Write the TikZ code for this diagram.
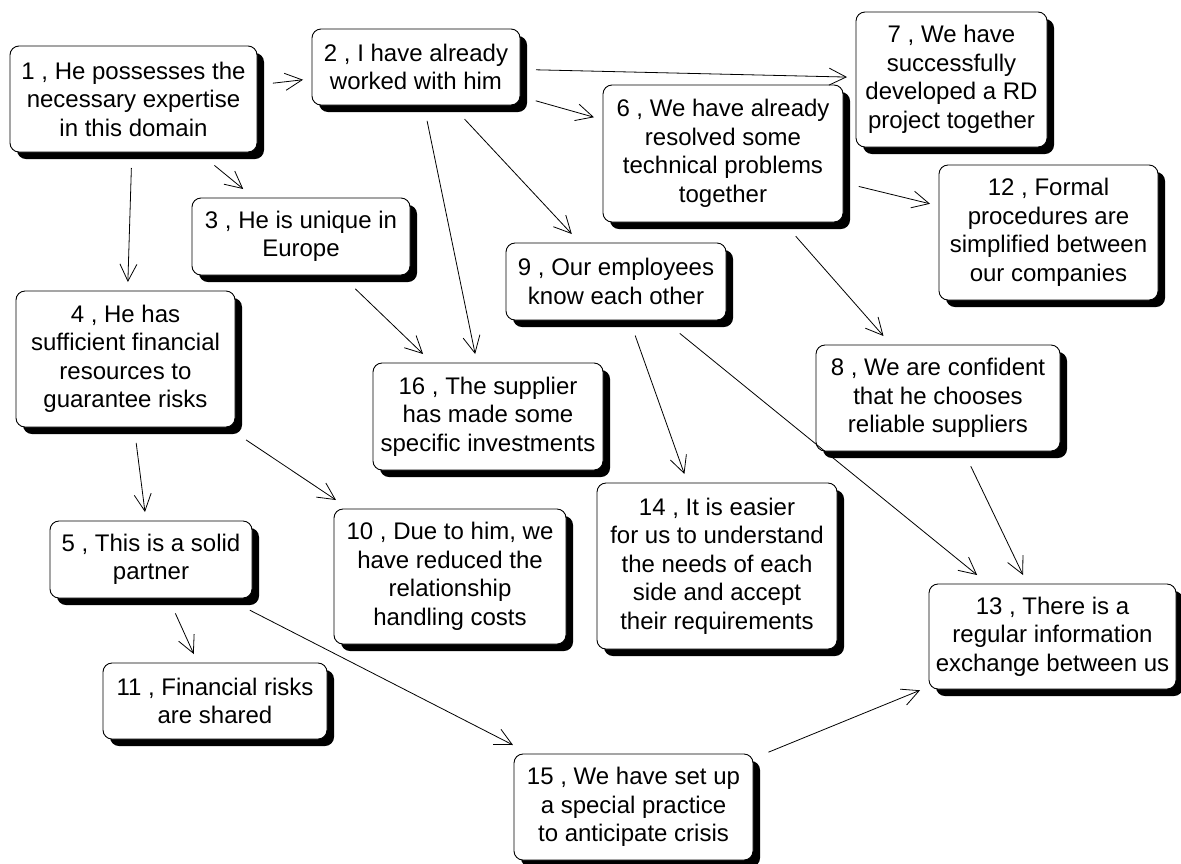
\documentclass[tikz,border=0pt]{standalone}
\usepackage{fontspec}
\setmainfont{Liberation Sans}
\usetikzlibrary{arrows.meta,shadows}
\begin{document}
\begin{tikzpicture}[x=1pt,y=-1pt,
  box/.style={draw=black, line width=0.9pt, fill=white, rounded corners=9pt,
    align=center, inner sep=2pt, outer sep=9pt,
    font=\fontsize{24}{28.5}\selectfont,
    drop shadow={shadow xshift=7pt, shadow yshift=-7pt, fill=black, opacity=1}},
  arr/.style={draw=black, line width=0.8pt, shorten <=7pt,
    -{Straight Barb[length=17pt,width=17pt,line width=0.8pt]}}]
\fill[white] (0,0) rectangle (1181,863);
\useasboundingbox (0,0) rectangle (1181,863);

\node[box, minimum width=247pt, minimum height=106pt] (n1) at (133.5,99) {1 , He possesses the\\necessary expertise\\in this domain};
\node[box, minimum width=208pt, minimum height=76pt] (n2) at (416,67) {2 , I have already\\worked with him};
\node[box, minimum width=218pt, minimum height=77pt] (n3) at (301,236.5) {3 , He is unique in\\Europe};
\node[box, minimum width=219pt, minimum height=136pt] (n4) at (125.5,359) {4 , He has\\sufficient financial\\resources to\\guarantee risks};
\node[box, minimum width=202pt, minimum height=77pt] (n5) at (151,559.5) {5 , This is a solid\\partner};
\node[box, minimum width=240pt, minimum height=137pt] (n6) at (723,153.5) {6 , We have already\\resolved some\\technical problems\\together};
\node[box, minimum width=191pt, minimum height=135pt] (n7) at (951.5,79.5) {7 , We have\\successfully\\developed a RD\\project together};
\node[box, minimum width=244pt, minimum height=106pt] (n8) at (938,398) {8 , We are confident\\that he chooses\\reliable suppliers};
\node[box, minimum width=220pt, minimum height=77pt] (n9) at (616,281.5) {9 , Our employees\\know each other};
\node[box, minimum width=232pt, minimum height=135pt] (n10) at (450,576.5) {10 , Due to him, we\\have reduced the\\relationship\\handling costs};
\node[box, minimum width=224pt, minimum height=76pt] (n11) at (215,701) {11 , Financial risks\\are shared};
\node[box, minimum width=219pt, minimum height=135pt] (n12) at (1048.5,232.5) {12 , Formal\\procedures are\\simplified between\\our companies};
\node[box, minimum width=247pt, minimum height=105pt] (n13) at (1052.5,636.5) {13 , There is a\\regular information\\exchange between us};
\node[box, minimum width=240pt, minimum height=166pt] (n14) at (717,566) {14 , It is easier\\for us to understand\\the needs of each\\side and accept\\their requirements};
\node[box, minimum width=239pt, minimum height=106pt] (n15) at (633.5,807) {15 , We have set up\\a special practice\\to anticipate crisis};
\node[box, minimum width=230pt, minimum height=107pt] (n16) at (488,416.5) {16 , The supplier\\has made some\\specific investments};

\draw[arr] (n1) -- (n2);
\draw[arr] (n1) -- (n3);
\draw[arr] (n1) -- (n4);
\draw[arr] (n2) -- (n7);
\draw[arr] (n2) -- (n6);
\draw[arr] (n2) -- (n16);
\draw[arr] (n2) -- (n9);
\draw[arr] (n3) -- (n16);
\draw[arr] (n6) -- (n12);
\draw[arr] (n6) -- (n8);
\draw[arr] (n9) -- (n14);
\draw[arr] (n9) -- (n13);
\draw[arr] (n8) -- (n13);
\draw[arr] (n4) -- (n5);
\draw[arr] (n4) -- (n10);
\draw[arr] (n5) -- (n11);
\draw[arr] (n5) -- (n15);
\draw[arr] (n15) -- (n13);
\end{tikzpicture}
\end{document}
